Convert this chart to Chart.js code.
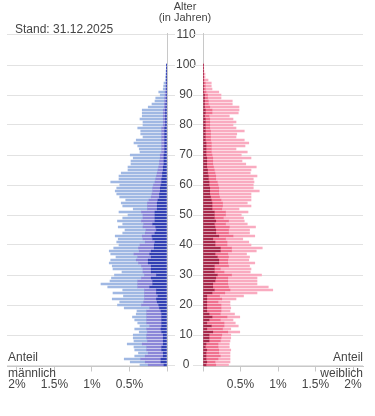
<!DOCTYPE html>
<html lang="de">
<head>
<meta charset="utf-8">
<script src="https://cdn.jsdelivr.net/npm/chart.js@4.4.1/dist/chart.umd.min.js"></script>
<style>
  html, body { margin: 0; padding: 0; background: #fff; }
  #wrap { position: relative; width: 375px; height: 416px; overflow: hidden;
          font-family: "Liberation Sans", Arial, sans-serif; color: #444; }
  canvas { position: absolute; top: 0; }
  #left { left: 0; }
  #right { left: 193px; }
  .txt { position: absolute; font-size: 12px; line-height: 14px; white-space: nowrap; }
</style>
</head>
<body>
<div id="wrap">
  <canvas id="left" width="203" height="416" style="width:203px;height:416px"></canvas>
  <canvas id="right" width="182" height="416" style="width:182px;height:416px"></canvas>
  <div class="txt" style="left:140px;width:90px;top:1px;text-align:center;font-size:11px;line-height:11px">Alter<br>(in Jahren)</div>
  <div class="txt" style="left:15px;top:22px">Stand: 31.12.2025</div>
  <div class="txt" style="left:8px;top:350px">Anteil</div>
  <div class="txt" style="left:8px;top:366px">männlich</div>
  <div class="txt" style="right:12px;top:350px;text-align:right">Anteil</div>
  <div class="txt" style="right:12px;top:366px;text-align:right">weiblich</div>
</div>
<script>
// Alter 0..110 (Balken nur bis 100)
const ages = Array.from({ length: 111 }, (_, i) => i);
const shareTicks = [0, 0.5, 1, 1.5, 2];

// Anteile in %, Index = Alter
const maleDark = [
  .04,.08,.08,.05,.05,.07,.07,.05,.05,.05, .05,.07,.08,.07,.07,.07,.07,.07,.08,.10,
  .11,.13,.14,.12,.14,.14,.23,.19,.19,.21, .14,.21,.21,.21,.25,.25,.21,.23,.21,.17,
  .17,.16,.19,.20,.16,.14,.15,.19,.16,.16, .16,.16,.13,.13,.13,.12,.10,.10,.09,.09,
  .08,.07,.07,.06,.06,.05,.05,.04,.04,.04, .04,.03,.03,.03,.03,.03,.03,.03,.03,.03,
  .02,.02,.02,.02,.02,.02,.015,.015,.01,.01, .01,.01,.005,.005,.005,.003,.003,.002,.002,.001,
  .001
];
const maleMid = [
  .21,.21,.27,.24,.20,.20,.20,.28,.21,.22, .22,.19,.19,.16,.20,.20,.20,.20,.19,.13,
  .23,.18,.16,.18,.16,.16,.16,.20,.20,.13, .16,.11,.11,.13,.13,.16,.18,.21,.16,.21,
  .19,.13,.13,.13,.13,.14,.17,.12,.18,.16, .16,.18,.13,.13,.13,.12,.11,.10,.10,.10,
  .10,.09,.08,.08,.07,.07,.06,.06,.06,.05, .05,.04,.04,.04,.04,.04,.04,.04,.04,.04,
  .03,.03,.03,.03,.03,.03,.02,.02,.02,.02, .015,.015,.01,.01,.008,.005,.005,.003,.003,.002,
  .001
];
const maleLight = [
  .11,.20,.22,.14,.13,.16,.17,.20,.18,.18, .18,.11,.16,.13,.12,.16,.19,.14,.13,.34,
  .32,.32,.43,.28,.42,.29,.40,.49,.37,.40, .40,.28,.40,.39,.39,.34,.29,.31,.40,.33,
  .28,.38,.33,.36,.30,.28,.33,.28,.32,.27, .20,.30,.19,.33,.35,.31,.42,.47,.50,.48,
  .45,.59,.49,.50,.48,.40,.41,.38,.38,.36, .40,.29,.30,.32,.37,.34,.25,.28,.28,.32,
  .27,.27,.31,.28,.28,.28,.215,.165,.13,.12, .065,.085,.035,.03,.027,.012,.012,.01,.008,.005,
  .003
];
const femaleDark = [
  .04,.05,.04,.04,.04,.05,.03,.04,.08,.08, .08,.13,.05,.11,.05,.08,.12,.08,.05,.05,
  .05,.05,.05,.05,.12,.15,.13,.13,.16,.17, .19,.15,.15,.15,.21,.21,.19,.16,.23,.23,
  .16,.16,.13,.21,.17,.17,.16,.15,.17,.15, .15,.15,.12,.12,.12,.11,.10,.09,.09,.09,
  .08,.08,.07,.07,.06,.06,.05,.05,.05,.05, .04,.04,.04,.04,.04,.03,.03,.03,.03,.03,
  .03,.03,.03,.02,.03,.03,.02,.02,.02,.02, .02,.01,.01,.01,.01,.005,.002,.002,.001,.001,
  .001
];
const femaleMid = [
  .13,.11,.16,.19,.17,.16,.17,.16,.15,.16, .17,.20,.21,.17,.23,.15,.20,.15,.19,.19,
  .19,.15,.20,.17,.17,.21,.21,.20,.17,.16, .19,.13,.08,.19,.12,.12,.15,.17,.15,.15,
  .16,.16,.17,.19,.17,.17,.19,.15,.17,.12, .15,.15,.13,.14,.14,.13,.12,.12,.12,.12,
  .12,.11,.10,.10,.10,.09,.09,.08,.08,.08, .08,.07,.07,.07,.07,.07,.07,.07,.07,.06,
  .06,.06,.06,.06,.09,.09,.07,.05,.05,.04, .04,.03,.02,.02,.02,.01,.005,.005,.002,.002,
  .002
];
const femaleLight = [
  .17,.20,.16,.13,.15,.16,.15,.15,.13,.13, .12,.16,.11,.19,.15,.17,.17,.19,.12,.13,
  .12,.16,.19,.32,.43,.57,.53,.39,.39,.39, .40,.35,.41,.28,.36,.28,.28,.25,.33,.41,
  .32,.29,.23,.29,.28,.28,.35,.29,.21,.27, .21,.30,.23,.38,.33,.40,.42,.43,.54,.46,
  .47,.49,.50,.55,.47,.49,.57,.44,.39,.51, .39,.48,.33,.45,.50,.45,.34,.35,.45,.35,
  .31,.35,.31,.27,.35,.36,.39,.32,.32,.18, .18,.17,.09,.08,.08,.052,.02,.02,.01,.007,
  .007
];

const maleColors = ['#3240b4', '#8b86d8', '#a0b8e3'];
const femaleColors = ['#a8294b', '#f0718f', '#f9abc0'];

const gridColor = '#e2e2e2';
const axisColor = '#c8c8c8';
const tickFont = { family: '"Liberation Sans", Arial, sans-serif', size: 12 };

function makeDatasets(series, colors) {
  return series.map((data, i) => ({
    data: data,
    backgroundColor: colors[i],
    borderWidth: 0,
    barThickness: 2,
    stack: 's'
  }));
}

function yGrid(len) {
  return {
    offset: false,
    drawTicks: true,
    tickLength: len,
    color: (c) => (c.index % 10 === 0 ? gridColor : 'rgba(0,0,0,0)')
  };
}

function xScale(reverse) {
  return {
    type: 'linear',
    reverse: reverse,
    min: 0,
    max: 2.133,
    afterBuildTicks: (s) => { s.ticks = shareTicks.map(v => ({ value: v })); },
    afterFit: (s) => { s.height = 30; s.paddingLeft = 0; s.paddingRight = 0; },
    grid: { drawOnChartArea: false, drawTicks: true, tickLength: 5, color: axisColor },
    border: { display: true, color: axisColor },
    ticks: {
      color: '#444',
      font: tickFont,
      padding: 6,
      maxRotation: 0,
      callback: (v) => (v === 0 ? '' : v + '%')
    }
  };
}

const common = {
  indexAxis: 'y',
  responsive: false,
  animation: false,
  devicePixelRatio: 1,
  plugins: { legend: { display: false }, tooltip: { enabled: false } }
};

new Chart(document.getElementById('left'), {
  type: 'bar',
  data: { labels: ages, datasets: makeDatasets([maleDark, maleMid, maleLight], maleColors) },
  options: {
    ...common,
    layout: { padding: { left: 7, right: 0, top: 33.5, bottom: 19.5 } },
    scales: {
      x: xScale(true),
      y: {
        type: 'category',
        position: 'right',
        reverse: true,
        stacked: true,
        afterFit: (s) => { s.width = 36; s.paddingTop = 0; s.paddingBottom = 0; },
        grid: yGrid(8),
        border: { display: true, color: axisColor },
        ticks: {
          autoSkip: false,
          crossAlign: 'center',
          padding: 1,
          color: '#444',
          font: tickFont,
          callback: (v, i) => (i % 10 === 0 ? String(ages[i]) : '')
        }
      }
    }
  }
});

new Chart(document.getElementById('right'), {
  type: 'bar',
  data: { labels: ages, datasets: makeDatasets([femaleDark, femaleMid, femaleLight], femaleColors) },
  options: {
    ...common,
    layout: { padding: { left: 0, right: 12, top: 33.5, bottom: 19.5 } },
    scales: {
      x: xScale(false),
      y: {
        type: 'category',
        position: 'left',
        reverse: true,
        stacked: true,
        afterFit: (s) => { s.width = 10; s.paddingTop = 0; s.paddingBottom = 0; },
        grid: yGrid(10),
        border: { display: true, color: axisColor },
        ticks: { display: false, autoSkip: false }
      }
    }
  }
});
</script>
</body>
</html>
